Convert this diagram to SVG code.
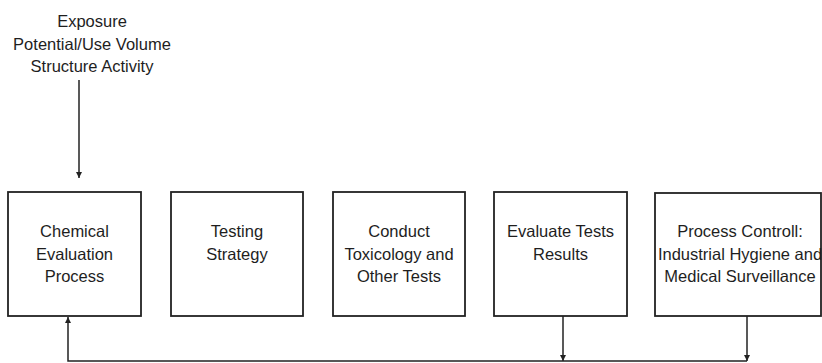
<svg xmlns="http://www.w3.org/2000/svg" width="822" height="363" viewBox="0 0 822 363">
<defs>
<style>
.box{fill:#fff;stroke:#222;stroke-width:1.8}
.t{font-family:"Liberation Sans",Arial,sans-serif;font-size:16.5px;fill:#1e1e1e;text-anchor:middle}
.c{stroke:#222;stroke-width:1.5;fill:none}
</style>
<marker id="ah" viewBox="0 0 6 6" refX="6" refY="3" markerWidth="6" markerHeight="6" markerUnits="userSpaceOnUse" orient="auto">
<path d="M0,0 L6,3 L0,6 Z" fill="#222"/>
</marker>
</defs>
<rect width="822" height="363" fill="#fff"/>
<g id="inputs">
<text class="t" x="92" y="27">Exposure</text>
<text class="t" x="92" y="50">Potential/Use Volume</text>
<text class="t" x="92" y="72">Structure Activity</text>
</g>
<g id="n1"><rect class="box" x="8" y="192" width="133" height="124"/>
<text class="t" x="74.5" y="237">Chemical</text><text class="t" x="74.5" y="260">Evaluation</text><text class="t" x="74.5" y="282">Process</text></g>
<g id="n2"><rect class="box" x="171" y="192" width="132" height="124"/>
<text class="t" x="237" y="237">Testing</text><text class="t" x="237" y="260">Strategy</text></g>
<g id="n3"><rect class="box" x="333" y="192" width="132" height="124"/>
<text class="t" x="399" y="237">Conduct</text><text class="t" x="399" y="260">Toxicology and</text><text class="t" x="399" y="282">Other Tests</text></g>
<g id="n4"><rect class="box" x="494" y="192" width="133" height="124"/>
<text class="t" x="560.5" y="237">Evaluate Tests</text><text class="t" x="560.5" y="260">Results</text></g>
<g id="n5"><rect class="box" x="655" y="193" width="166" height="123"/>
<text class="t" x="740" y="237">Process Controll:</text><text class="t" x="740" y="260">Industrial Hygiene and</text><text class="t" x="740" y="282">Medical Surveillance</text></g>
<g id="connectors">
<line class="c" x1="79" y1="80" x2="79" y2="178" marker-end="url(#ah)"/>
<polyline class="c" points="747,361 68,361 68,317" marker-end="url(#ah)"/>
<line class="c" x1="563" y1="316" x2="563" y2="361" marker-end="url(#ah)"/>
<line class="c" x1="747" y1="316" x2="747" y2="361" marker-end="url(#ah)"/>
</g>
</svg>
